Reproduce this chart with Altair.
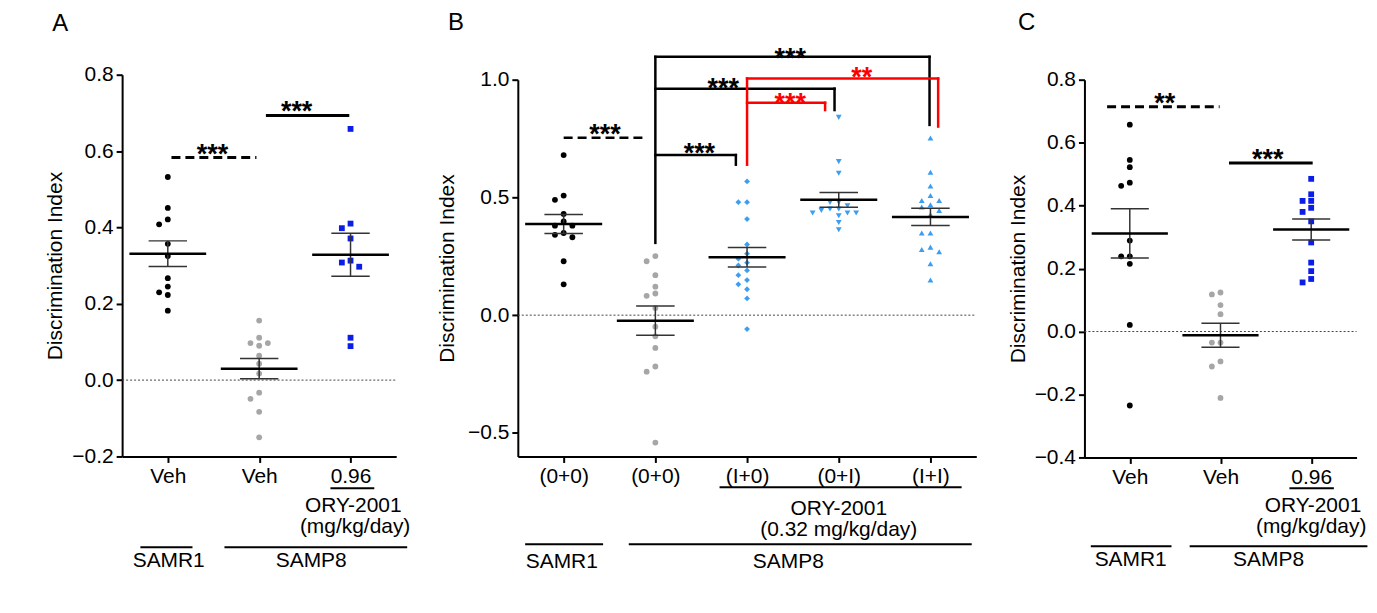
import json
import altair as alt
import pandas as pd

FONT = "Liberation Sans"
FS = 21

# ---------------- Panel A data ----------------
A_ticks = ["Veh", "Veh", "0.96"]
A_series = ["SAMR1 Veh", "SAMP8 Veh", "SAMP8 ORY-2001 0.96"]
A_samr1_veh = [0.532, 0.451, 0.421, 0.408, 0.357, 0.325, 0.267, 0.245, 0.230, 0.223, 0.182]
A_samp8_veh = [0.156, 0.111, 0.097, 0.097, 0.090, 0.064, 0.043, 0.017, -0.033, -0.049, -0.083, -0.150]
A_samp8_ory = [0.658, 0.410, 0.398, 0.371, 0.313, 0.308, 0.297, 0.111, 0.089]
A_sig_ref = ["SAMR1", "SAMP8"]
A_sig_x1 = [0.04, 1.09]
A_sig_x2 = [0.97, 1.97]
A_sig_y = [0.583, 0.693]
A_star_text = ["***", "***"]
A_star_x = [0.49, 1.41]
A_star_y = [0.608, 0.721]
A_drug_text = ["ORY-2001", "(mg/kg/day)"]
A_group_text = ["SAMR1", "SAMP8"]

# ---------------- Panel B data ----------------
B_ticks = ["(0+0)", "(0+0)", "(I+0)", "(0+I)", "(I+I)"]
B_series = ["SAMR1 (0+0)", "SAMP8 (0+0)", "SAMP8 (I+0)", "SAMP8 (0+I)", "SAMP8 (I+I)"]
B_samr1 = [0.680, 0.508, 0.490, 0.430, 0.398, 0.380, 0.380, 0.349, 0.341, 0.331, 0.229, 0.131]
B_samp8_00 = [0.251, 0.229, 0.170, 0.121, 0.092, 0.082, 0.030, -0.049, -0.090, -0.139, -0.218, -0.240, -0.541]
B_samp8_I0 = [0.568, 0.480, 0.480, 0.408, 0.300, 0.261, 0.240, 0.223, 0.211, 0.190, 0.170, 0.149, 0.131, 0.110, 0.071, -0.059]
B_samp8_0I = [0.840, 0.652, 0.603, 0.479, 0.479, 0.465, 0.451, 0.451, 0.445, 0.434, 0.434, 0.434, 0.422, 0.394, 0.363]
B_samp8_II = [0.752, 0.607, 0.549, 0.508, 0.487, 0.487, 0.469, 0.459, 0.445, 0.427, 0.349, 0.349, 0.289, 0.279, 0.269, 0.218, 0.149]
# significance brackets (segments, in category / index units)
B_sig_ref = ["SAMR1", "SAMP8", "SAMP8", "SAMP8", "SAMP8", "SAMP8", "SAMP8", "SAMP8",
             "(I+0)", "(I+0)", "(I+0)", "(I+0)", "(I+0)"]
B_sig_x1 = [0.0, 1.0, 1.0, 3.99, 1.0, 2.954, 1.0, 1.878, 2.0, 2.0, 4.084, 2.0, 2.851]
B_sig_x2 = [0.90, 1.0, 3.99, 3.99, 2.954, 2.954, 1.878, 1.878, 2.0, 4.084, 4.084, 2.851, 2.851]
B_sig_y1 = [0.753, 0.307, 1.097, 1.097, 0.962, 0.962, 0.680, 0.680, 0.639, 1.005, 1.005, 0.902, 0.902]
B_sig_y2 = [0.753, 1.097, 1.097, 0.808, 0.962, 0.871, 0.680, 0.639, 1.005, 1.005, 0.801, 0.902, 0.871]
B_star_text = ["***", "***", "***", "***", "**", "***"]
B_star_ref = ["SAMR1", "SAMP8", "SAMP8", "SAMP8", "(I+0)", "(I+0)"]
B_star_x = [0.45, 2.47, 1.74, 1.48, 3.25, 2.47]
B_star_y = [0.794, 1.118, 0.991, 0.712, 1.038, 0.928]
B_drug_text = ["ORY-2001", "(0.32 mg/kg/day)"]
B_group_text = ["SAMR1", "SAMP8"]

# ---------------- Panel C data ----------------
C_ticks = ["Veh", "Veh", "0.96"]
C_series = ["SAMR1 Veh", "SAMP8 Veh", "SAMP8 ORY-2001 0.96"]
C_samr1_veh = [0.657, 0.545, 0.522, 0.473, 0.463, 0.289, 0.239, 0.239, 0.215, 0.021, -0.235]
C_samp8_veh = [0.124, 0.118, 0.084, 0.055, -0.035, -0.035, -0.095, -0.111, -0.211]
C_samp8_ory = [0.485, 0.436, 0.415, 0.415, 0.393, 0.380, 0.350, 0.283, 0.219, 0.192, 0.167, 0.156]
C_sig_ref = ["SAMR1", "SAMP8"]
C_sig_x1 = [-0.25, 1.11]
C_sig_x2 = [0.99, 2.0]
C_sig_y = [0.714, 0.535]
C_star_text = ["**", "***"]
C_star_x = [0.385, 1.52]
C_star_y = [0.746, 0.566]
C_drug_text = ["ORY-2001", "(mg/kg/day)"]
C_group_text = ["SAMR1", "SAMP8"]

# ---------------- styles ----------------
BLACK, GRAY, BLUE, LBLUE, RED = "#000000", "#a6a6a6", "#0a1ee8", "#3d9ef0", "#ff0000"
MARKS_A = [("circle", BLACK, 34), ("circle", GRAY, 34), ("square", BLUE, 50)]
MARKS_B = [("circle", BLACK, 34), ("circle", GRAY, 34), ("diamond", LBLUE, 62),
           ("triangle-down", LBLUE, 58), ("triangle-up", LBLUE, 58)]
SIG_STYLE = {
    "SAMR1": dict(color=BLACK, strokeCap="butt", strokeDash=[9, 5]),
    "SAMP8": dict(color=BLACK, strokeCap="square"),
    "(I+0)": dict(color=RED, strokeCap="square"),
}
SLOT = 0.095  # beeswarm column width (category units)


def swarm(values, px_per_unit, thr=6.6):
    order = sorted(range(len(values)), key=lambda i: -values[i])
    placed, slots = [], [0] * len(values)
    for i in order:
        v = values[i]
        for s in [0, -1, 1, -2, 2, -3, 3, -4, 4]:
            if all(not (ps == s and abs(pv - v) * px_per_unit < thr) for pv, ps in placed):
                break
        placed.append((v, s))
        slots[i] = s
    return slots


def make_panel(letter, W, H, ext, ydom, yticks, ticks, series, values, marks,
               sig, stars, bottom, letter_xy, title_pad, sig_w):
    ppu = (H + ext) / (ydom[1] - ydom[0])
    n = len(ticks)
    rows = []
    for gi, (name, vals) in enumerate(zip(series, values)):
        for v, s in zip(vals, swarm(vals, ppu)):
            rows.append(dict(grp=gi, series=name, value=v, xpos=gi + s * SLOT))
    df = pd.DataFrame(rows)

    xscale = alt.Scale(domain=[-0.5, n - 0.5], nice=False, zero=False)
    if ext:
        yscale = alt.Scale(domain=ydom, nice=False, zero=False, range=[H, -ext])
    else:
        yscale = alt.Scale(domain=ydom, nice=False, zero=False)
    xaxis = alt.Axis(values=list(range(n)), labelExpr=json.dumps(ticks) + "[datum.value]",
                     title=None, labelPadding=3, labelFlush=False, labelOverlap=False)
    yaxis = alt.Axis(values=yticks, format=".1f", title="Discrimination Index",
                     titlePadding=title_pad, labelPadding=3)

    def X(f):
        return alt.X(f, type="quantitative", scale=xscale, axis=xaxis)

    def Y(f):
        return alt.Y(f, type="quantitative", scale=yscale, axis=yaxis)

    layers = []
    layers.append(alt.Chart(pd.DataFrame({"z": [0.0]})).mark_rule(
        color="#444444", strokeWidth=1, strokeDash=[2, 2]).encode(
        y=Y("z"), x=alt.value(0), x2=alt.value(W)))

    layers.append(alt.Chart(df).mark_point(filled=True, opacity=1, strokeWidth=0).encode(
        x=X("xpos"), y=Y("value"),
        color=alt.Color("series:N", scale=alt.Scale(domain=series, range=[m[1] for m in marks]), legend=None),
        shape=alt.Shape("series:N", scale=alt.Scale(domain=series, range=[m[0] for m in marks]), legend=None),
        size=alt.Size("series:O", scale=alt.Scale(domain=series, range=[m[2] for m in marks]), legend=None),
    ))

    stats = alt.Chart(df).transform_aggregate(
        m="mean(value)", se="stderr(value)", groupby=["grp"]
    ).transform_calculate(
        lo="datum.m - datum.se", hi="datum.m + datum.se",
        xl="datum.grp - 0.42", xr="datum.grp + 0.42",
        cl="datum.grp - 0.21", cr="datum.grp + 0.21")
    layers.append(stats.mark_rule(color="#333333", strokeWidth=1.5).encode(x=X("grp"), y=Y("lo"), y2="hi:Q"))
    layers.append(stats.mark_rule(color="#333333", strokeWidth=1.5).encode(x=X("cl"), x2="cr:Q", y=Y("lo")))
    layers.append(stats.mark_rule(color="#333333", strokeWidth=1.5).encode(x=X("cl"), x2="cr:Q", y=Y("hi")))
    layers.append(stats.mark_rule(color=BLACK, strokeWidth=2.5).encode(x=X("xl"), x2="xr:Q", y=Y("m")))

    for ref in sig["ref"].unique():
        st = SIG_STYLE[ref]
        kw = dict(color=st["color"], strokeCap=st["strokeCap"], strokeWidth=sig_w)
        if "strokeDash" in st:
            kw["strokeDash"] = st["strokeDash"]
        layers.append(alt.Chart(sig[sig["ref"] == ref]).mark_rule(**kw).encode(
            x=X("x1"), x2="x2:Q", y=Y("y1"), y2="y2:Q"))
    for ref in stars["ref"].unique():
        layers.append(alt.Chart(stars[stars["ref"] == ref]).mark_text(
            font=FONT, fontSize=27, fontWeight="bold", color=SIG_STYLE[ref]["color"],
            baseline="alphabetic", dy=15).encode(x=X("x"), y=Y("y"), text="t:N"))

    # annotations under the x axis
    ul = bottom["underline"]
    layers.append(alt.Chart(pd.DataFrame({"x1": [ul[0]], "x2": [ul[1]]})).mark_rule(
        color=BLACK, strokeWidth=2).encode(x=X("x1"), x2="x2:Q", y=alt.value(H + ul[2])))
    for (t, x, off) in bottom["drug"]:
        layers.append(alt.Chart(pd.DataFrame({"t": [t], "x": [x]})).mark_text(
            font=FONT, fontSize=FS, color=BLACK, baseline="middle").encode(
            x=X("x"), text="t:N", y=alt.value(H + off)))
    gl = pd.DataFrame(bottom["glines"], columns=["x1", "x2"])
    layers.append(alt.Chart(gl).mark_rule(color=BLACK, strokeWidth=2).encode(
        x=X("x1"), x2="x2:Q", y=alt.value(H + bottom["gline_off"])))
    gn = pd.DataFrame(bottom["gnames"], columns=["t", "x"])
    layers.append(alt.Chart(gn).mark_text(font=FONT, fontSize=FS, color=BLACK, baseline="middle").encode(
        x=X("x"), text="t:N", y=alt.value(H + bottom["gname_off"])))

    layers.append(alt.Chart(pd.DataFrame({"t": [letter]})).mark_text(
        font=FONT, fontSize=24, color=BLACK, align="center", baseline="middle").encode(
        text="t:N", x=alt.value(letter_xy[0]), y=alt.value(letter_xy[1])))

    return alt.layer(*layers).properties(width=W, height=H)


def sig_df(ref, x1, x2, y1, y2):
    return pd.DataFrame({"ref": ref, "x1": x1, "x2": x2, "y1": y1, "y2": y2})


def star_df(t, ref, x, y):
    return pd.DataFrame({"t": t, "ref": ref, "x": x, "y": y})


pA = make_panel(
    "A", 275, 378, 5, [-0.2, 0.8], [-0.2, 0.0, 0.2, 0.4, 0.6, 0.8], A_ticks, A_series,
    [A_samr1_veh, A_samp8_veh, A_samp8_ory], MARKS_A,
    sig_df(A_sig_ref, A_sig_x1, A_sig_x2, A_sig_y, A_sig_y),
    star_df(A_star_text, A_sig_ref, A_star_x, A_star_y),
    dict(underline=(1.78, 2.26, 32),
         drug=[(A_drug_text[0], 2.03, 50), (A_drug_text[1], 2.05, 71)],
         glines=[(-0.30, 0.27), (0.62, 2.62)], gline_off=91,
         gnames=[(A_group_text[0], 0.01), (A_group_text[1], 1.57)], gname_off=105),
    (-62, -56), 6, 3)

pB = make_panel(
    "B", 460, 378, 0, [-0.6, 1.0], [-0.5, 0.0, 0.5, 1.0], B_ticks, B_series,
    [B_samr1, B_samp8_00, B_samp8_I0, B_samp8_0I, B_samp8_II], MARKS_B,
    sig_df(B_sig_ref, B_sig_x1, B_sig_x2, B_sig_y1, B_sig_y2),
    star_df(B_star_text, B_star_ref, B_star_x, B_star_y),
    dict(underline=(1.70, 4.34, 31),
         drug=[(B_drug_text[0], 3.0, 53), (B_drug_text[1], 3.0, 74)],
         glines=[(-0.42, 0.43), (0.71, 4.45)], gline_off=88,
         gnames=[(B_group_text[0], -0.02), (B_group_text[1], 2.45)], gname_off=106),
    (-62, -57), 10, 2.5)

pC = make_panel(
    "C", 273, 379, 0, [-0.4, 0.8], [-0.4, -0.2, 0.0, 0.2, 0.4, 0.6, 0.8], C_ticks, C_series,
    [C_samr1_veh, C_samp8_veh, C_samp8_ory], MARKS_A,
    sig_df(C_sig_ref, C_sig_x1, C_sig_x2, C_sig_y, C_sig_y),
    star_df(C_star_text, C_sig_ref, C_star_x, C_star_y),
    dict(underline=(1.76, 2.25, 31),
         drug=[(C_drug_text[0], 2.02, 49), (C_drug_text[1], 2.0, 70)],
         glines=[(-0.43, 0.46), (0.66, 2.62)], gline_off=89,
         gnames=[(C_group_text[0], 0.01), (C_group_text[1], 1.53)], gname_off=103),
    (-58, -57), 6, 3)

RES = dict(color="independent", shape="independent", size="independent")
inner = alt.hconcat(pB, pC, spacing=29.5).resolve_scale(**RES)
chart = alt.hconcat(pA, inner, spacing=25).resolve_scale(**RES).properties(
    padding={"left": 36.5, "top": 2, "right": 0, "bottom": 0}
).configure_view(stroke=None).configure_axis(
    domainColor=BLACK, domainWidth=2, tickColor=BLACK, tickWidth=2, tickSize=6,
    labelFont=FONT, labelFontSize=FS, labelColor=BLACK,
    titleFont=FONT, titleFontSize=FS, titleFontWeight="normal", titleColor=BLACK, grid=False,
)

chart.save("out.html", embed_options={"renderer": "svg", "actions": False})
